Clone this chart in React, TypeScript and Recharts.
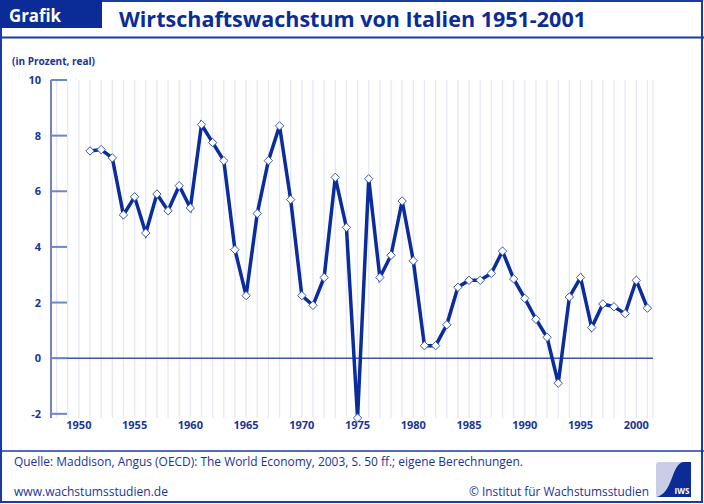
import { LineChart, Line, XAxis, YAxis, CartesianGrid, ReferenceLine } from "recharts";

const years = [
  1951, 1952, 1953, 1954, 1955, 1956, 1957, 1958, 1959, 1960,
  1961, 1962, 1963, 1964, 1965, 1966, 1967, 1968, 1969, 1970,
  1971, 1972, 1973, 1974, 1975, 1976, 1977, 1978, 1979, 1980,
  1981, 1982, 1983, 1984, 1985, 1986, 1987, 1988, 1989, 1990,
  1991, 1992, 1993, 1994, 1995, 1996, 1997, 1998, 1999, 2000, 2001,
];

// Wachstum in Prozent, real
const growth = [
  7.45, 7.5, 7.2, 5.15, 5.8, 4.5, 5.9, 5.3, 6.2, 5.4,
  8.4, 7.75, 7.1, 3.9, 2.25, 5.2, 7.1, 8.35, 5.7, 2.25,
  1.9, 2.9, 6.5, 4.7, -2.15, 6.45, 2.9, 3.7, 5.65, 3.5,
  0.45, 0.45, 1.2, 2.55, 2.8, 2.8, 3.05, 3.85, 2.85, 2.15,
  1.4, 0.75, -0.9, 2.2, 2.9, 1.1, 1.95, 1.85, 1.6, 2.8, 1.8,
];

const yTicks = [-2, 0, 2, 4, 6, 8, 10];
const gridYears = Array.from({ length: 54 }, (_, i) => 1948 + i);

const data = years.map((y, i) => ({ year: y, value: growth[i] }));

const DARK = "#0b2c96";
const TEXT = "#1a3499";
const FONT = "'Open Sans', sans-serif";

function Diamond(props: any) {
  const { cx, cy } = props;
  if (cx == null || cy == null) return null;
  const r = 4.2;
  return (
    <path
      d={`M${cx},${cy - r}L${cx + r},${cy}L${cx},${cy + r}L${cx - r},${cy}Z`}
      fill="#fff"
      stroke="#3a5ab8"
      strokeWidth={1}
    />
  );
}

function YTick(props: any) {
  const { x, y, payload } = props;
  return (
    <g>
      <line x1={x} x2={x + 16} y1={y} y2={y} stroke="#7084c8" strokeWidth={2} />
      <text x={x - 10} y={y + 4} textAnchor="end" fill={TEXT} fontSize={11} fontWeight={700} fontFamily={FONT}>
        {payload.value}
      </text>
    </g>
  );
}

function XTick(props: any) {
  const { x, y, payload } = props;
  if (payload.value % 5 !== 0) return null;
  return (
    <text x={x} y={y + 9} textAnchor="middle" fill={TEXT} fontSize={11} fontWeight={700} fontFamily={FONT}>
      {payload.value}
    </text>
  );
}

function Frame() {
  return (
    <svg width={704} height={504} style={{ position: "absolute", left: 0, top: 0, pointerEvents: "none" }}>
      <rect x={1} y={1} width={701} height={501} fill="none" stroke="#1a3aa6" strokeWidth={2} />
      <rect x={0} y={0} width={102} height={28} fill={DARK} />
      <text x={9} y={22} fill="#fff" fontSize={17} fontWeight={700} fontFamily={FONT} textLength={52} lengthAdjust="spacingAndGlyphs">
        Grafik
      </text>
      <text x={119} y={27} fill={DARK} fontSize={21} fontWeight={700} fontFamily={FONT} textLength={467} lengthAdjust="spacingAndGlyphs">
        Wirtschaftswachstum von Italien 1951-2001
      </text>
      <line x1={0} x2={704} y1={37.5} y2={37.5} stroke="#1a3aa6" strokeWidth={2} />
      <text x={12} y={65} fill={TEXT} fontSize={10.5} fontWeight={700} fontFamily={FONT} textLength={83} lengthAdjust="spacingAndGlyphs">
        (in Prozent, real)
      </text>
      <line x1={0} x2={704} y1={451} y2={451} stroke="#1a3aa6" strokeWidth={1.5} />
      <text x={14} y={466} fill={TEXT} fontSize={12} fontFamily={FONT} textLength={509} lengthAdjust="spacingAndGlyphs">
        Quelle: Maddison, Angus (OECD): The World Economy, 2003, S. 50 ff.; eigene Berechnungen.
      </text>
      <text x={14} y={496} fill={TEXT} fontSize={12} fontFamily={FONT} textLength={154} lengthAdjust="spacingAndGlyphs">
        www.wachstumsstudien.de
      </text>
      <text x={469} y={496} fill={TEXT} fontSize={12} fontFamily={FONT} textLength={180} lengthAdjust="spacingAndGlyphs">
        © Institut für Wachstumsstudien
      </text>
      <rect x={656} y={462} width={35} height={35} rx={3} fill="#c9cee6" />
      <path d="M691,462 L683,462 C671,465 673,494 656,497 L691,497 Z" fill={DARK} />
      <text x={682} y={494} textAnchor="middle" fill="#fff" fontSize={8} fontWeight={700} fontFamily={FONT}>
        IWS
      </text>
    </svg>
  );
}

export default function App() {
  return (
    <div style={{ position: "absolute", left: 0, top: 0, width: 704, height: 504, background: "#fff" }}>
      <LineChart width={704} height={504} data={data} margin={{ top: 80, right: 51, bottom: 56, left: 0 }}>
        <CartesianGrid horizontal={false} stroke="#e6e8f5" strokeWidth={1.3} />
        <XAxis
          dataKey="year"
          type="number"
          domain={[1947.5, 2001.5]}
          ticks={gridYears}
          interval={0}
          axisLine={false}
          tickLine={false}
          tickSize={0}
          height={30}
          tick={<XTick />}
        />
        <YAxis
          type="number"
          domain={[-2, 10]}
          ticks={yTicks}
          interval={0}
          width={51}
          axisLine={{ stroke: "#7084c8", strokeWidth: 2 }}
          tickLine={false}
          tickSize={0}
          tickMargin={0}
          tick={<YTick />}
        />
        <ReferenceLine y={0} stroke="#3c55aa" strokeWidth={1.5} />
        <Line
          type="linear"
          dataKey="value"
          stroke="#0a2c9c"
          strokeWidth={3.5}
          dot={<Diamond />}
          activeDot={false}
          isAnimationActive={false}
        />
      </LineChart>
      <Frame />
    </div>
  );
}
